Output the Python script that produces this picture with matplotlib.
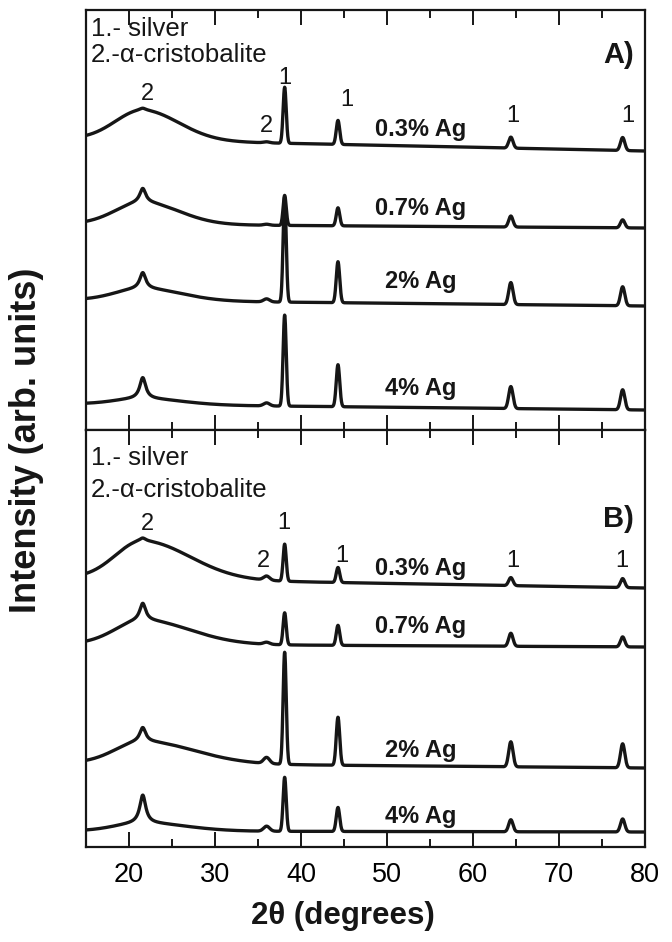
import numpy as np
import matplotlib
matplotlib.use("Agg")
import matplotlib.pyplot as plt
from matplotlib.ticker import MultipleLocator

plt.rcParams['font.family'] = ['Liberation Sans', 'DejaVu Sans']

# ---------------- data (arbitrary units) ----------------
samples = ["0.3% Ag", "0.7% Ag", "2% Ag", "4% Ag"]
pos_hump = 21.6          # amorphous silica hump / alpha-cristobalite (101)
pos_c36 = 36.0           # alpha-cristobalite
pos_ag = [38.1, 44.3, 64.4, 77.4]   # silver (111) (200) (220) (311)

# Panel A
A_bg_left = [291, 206, 130, 26]
A_bg_right = [279, 202, 124, 20]
A_hump = [30, 22, 12, 6]
A_hump_wr = [4.2, 4.2, 4.5, 4.5]
A_c21 = [2, 14, 16, 21]
A_c36 = [1, 1, 3, 3]
A_ag38 = [56, 30, 105, 91]
A_ag44 = [24, 18, 41, 42]
A_ag64 = [11, 11, 22, 22]
A_ag77 = [13, 8, 19, 20]

# Panel B
B_bg_left = [269, 203, 84, 16]
B_bg_right = [259, 200, 79, 15]
B_hump = [38, 24, 22, 8]
B_hump_wr = [5.5, 5.5, 6.0, 5.0]
B_c21 = [3, 17, 14, 28]
B_c36 = [4, 2, 6, 5]
B_ag38 = [37, 32, 112, 54]
B_ag44 = [15, 20, 48, 24]
B_ag64 = [8, 13, 25, 12]
B_ag77 = [9, 10, 24, 13]

x_ticks = [20, 30, 40, 50, 60, 70, 80]

# ---------------- helpers ----------------
x = np.linspace(15, 80, 3001)


def gauss(x, c, s):
    return np.exp(-0.5 * ((x - c) / s) ** 2)


def lor(x, c, g):
    return 1.0 / (1.0 + ((x - c) / g) ** 2)


def pattern(bg0, bg1, hump, wr, c21, c36, a38, a44, a64, a77):
    y = bg0 + (bg1 - bg0) * (x - 15) / 65.0
    left = x < pos_hump
    h = np.where(left, gauss(x, pos_hump, 3.2), gauss(x, pos_hump, wr))
    y = y + hump * h
    y = y + c21 * lor(x, pos_hump, 0.42)
    y = y + c36 * gauss(x, pos_c36, 0.35)
    widths = [0.18, 0.2, 0.25, 0.25]
    for p, a, w in zip(pos_ag, [a38, a44, a64, a77], widths):
        y = y + a * gauss(x, p, w)
    return y


fig = plt.figure(figsize=(6.72, 9.42), dpi=100)
W, H = 672.0, 942.0
axA = fig.add_axes([86 / W, 1 - 430 / H, 559 / W, 420 / H])
axB = fig.add_axes([86 / W, 1 - 847 / H, 559 / W, 417 / H])

col = '#161616'

panels = [
    (axA, (A_bg_left, A_bg_right, A_hump, A_hump_wr, A_c21, A_c36,
           A_ag38, A_ag44, A_ag64, A_ag77), 420),
    (axB, (B_bg_left, B_bg_right, B_hump, B_hump_wr, B_c21, B_c36,
           B_ag38, B_ag44, B_ag64, B_ag77), 417),
]

for ax, arrs, ymax in panels:
    for i in range(len(samples)):
        y = pattern(*[a[i] for a in arrs])
        ax.plot(x, y, color=col, lw=2.4, solid_joinstyle='round')
    ax.set_xlim(15, 80)
    ax.set_ylim(0, ymax)
    ax.set_yticks([])
    ax.xaxis.set_major_locator(MultipleLocator(10))
    ax.xaxis.set_minor_locator(MultipleLocator(5))
    ax.tick_params(axis='x', which='both', direction='in', top=True, bottom=True,
                   width=1.4, color=col)
    ax.tick_params(axis='x', which='major', length=11, labelsize=19.5, pad=11)
    ax.tick_params(axis='x', which='minor', length=6)
    for sp in ax.spines.values():
        sp.set_linewidth(1.6)
        sp.set_color(col)

axA.tick_params(axis='x', labelbottom=False)
axB.set_xticks(x_ticks)

reg = dict(fontsize=18.5, color=col)
pk = dict(fontsize=17, color=col, ha='center', va='baseline')
bold = dict(fontsize=17, color=col, weight='bold', va='baseline', ha='left')

# Panel A texts
axA.text(15.55, 394, "1.- silver", va='baseline', **reg)
axA.text(15.55, 368, "2.-\u03b1-cristobalite", va='baseline', **reg)
axA.text(78.7, 367, "A)", fontsize=21, weight='bold', color=col, ha='right', va='baseline')
axA.text(22.2, 330, "2", **pk)
axA.text(36.0, 298, "2", **pk)
axA.text(38.1, 346, "1", **pk)
axA.text(45.3, 324, "1", **pk)
axA.text(64.6, 308, "1", **pk)
axA.text(78.0, 308, "1", **pk)
axA.text(48.6, 294, samples[0], **bold)
axA.text(48.6, 215, samples[1], **bold)
axA.text(49.8, 142, samples[2], **bold)
axA.text(49.8, 35, samples[3], **bold)

# Panel B texts
axB.text(15.55, 382, "1.- silver", va='baseline', **reg)
axB.text(15.55, 350, "2.-\u03b1-cristobalite", va='baseline', **reg)
axB.text(78.7, 320, "B)", fontsize=21, weight='bold', color=col, ha='right', va='baseline')
axB.text(22.1, 317, "2", **pk)
axB.text(35.6, 280, "2", **pk)
axB.text(38.0, 318, "1", **pk)
axB.text(44.8, 285, "1", **pk)
axB.text(64.6, 280, "1", **pk)
axB.text(77.3, 280, "1", **pk)
axB.text(48.6, 272, samples[0], **bold)
axB.text(48.6, 214, samples[1], **bold)
axB.text(49.8, 90, samples[2], **bold)
axB.text(49.8, 24, samples[3], **bold)

fig.text(343 / W, 1 - 916 / H, "2\u03b8 (degrees)", ha='center', va='center',
         fontsize=22.5, weight='bold', color=col)
fig.text(27 / W, 1 - 440 / H, "Intensity (arb. units)", ha='center', va='center',
         rotation=90, fontsize=26, weight='bold', color=col)

fig.savefig("out.png", dpi=100, facecolor='white')
